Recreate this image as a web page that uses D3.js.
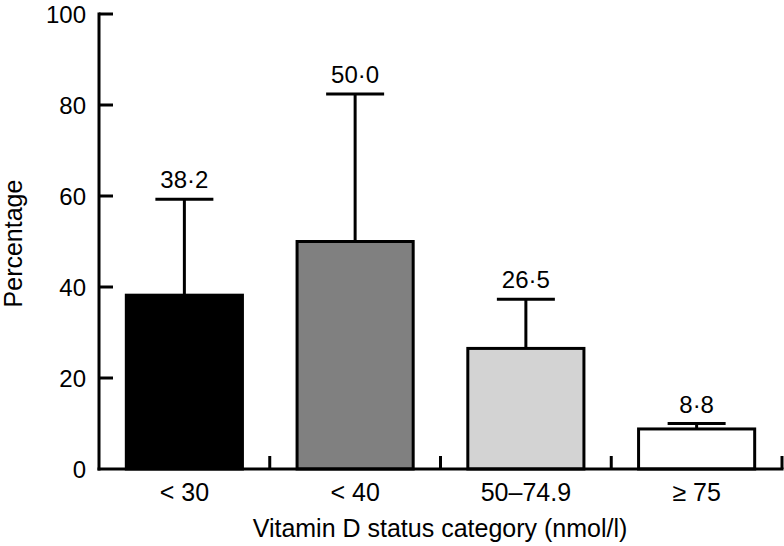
<!DOCTYPE html>
<html>
<head>
<meta charset="utf-8">
<script src="https://cdn.jsdelivr.net/npm/d3@7"></script>
<style>
  html, body { margin: 0; padding: 0; background: #fff; }
  text { font-family: "Liberation Sans", Arial, Helvetica, sans-serif; fill: #000; }
</style>
</head>
<body>
<svg id="chart" width="784" height="546"></svg>
<script>
const categories = ["< 30", "< 40", "50–74.9", "≥ 75"];
const values = [38.2, 50.0, 26.5, 8.8];
const upperValues = [59.3, 82.4, 37.3, 10.0];
const valueLabels = ["38·2", "50·0", "26·5", "8·8"];
const fills = ["#000000", "#808080", "#d3d3d3", "#ffffff"];
const yTicks = [0, 20, 40, 60, 80, 100];
const xTitle = "Vitamin D status category (nmol/l)";
const yTitle = "Percentage";

const svg = d3.select("#chart");
const mLeft = 99, mRight = 782, mTop = 14, mBottom = 469;
const fs = 24;
const fsTitle = 25;

const x = d3.scaleBand().domain(categories).range([mLeft, mRight]).paddingInner(0).paddingOuter(0);
const y = d3.scaleLinear().domain([0, 100]).range([mBottom, mTop]);
const barW = x.bandwidth() * 0.68;
const capW = 58;
const sw = 3;

// bars
const g = svg.append("g");
categories.forEach((c, i) => {
  const cx = x(c) + x.bandwidth() / 2;
  g.append("line")
    .attr("x1", cx).attr("x2", cx)
    .attr("y1", y(values[i])).attr("y2", y(upperValues[i]))
    .attr("stroke", "#000").attr("stroke-width", sw);
  g.append("line")
    .attr("x1", cx - capW / 2).attr("x2", cx + capW / 2)
    .attr("y1", y(upperValues[i])).attr("y2", y(upperValues[i]))
    .attr("stroke", "#000").attr("stroke-width", sw);
  g.append("rect")
    .attr("x", cx - barW / 2).attr("width", barW)
    .attr("y", y(values[i])).attr("height", y(0) - y(values[i]))
    .attr("fill", fills[i]).attr("stroke", "#000").attr("stroke-width", sw);
  g.append("text")
    .attr("x", cx).attr("y", y(upperValues[i]) - 11)
    .attr("text-anchor", "middle").attr("font-size", fs)
    .text(valueLabels[i]);
});

// y axis
const yAxis = svg.append("g");
yAxis.append("line")
  .attr("x1", mLeft).attr("x2", mLeft).attr("y1", mTop - 1.5).attr("y2", mBottom + 1.5)
  .attr("stroke", "#000").attr("stroke-width", sw);
yTicks.forEach(t => {
  if (t > 0) {
    yAxis.append("line")
      .attr("x1", mLeft).attr("x2", mLeft + 14)
      .attr("y1", y(t)).attr("y2", y(t))
      .attr("stroke", "#000").attr("stroke-width", sw);
  }
  yAxis.append("text")
    .attr("x", mLeft - 13).attr("y", y(t))
    .attr("dy", "0.36em")
    .attr("text-anchor", "end").attr("font-size", fs)
    .text(t);
});

// x axis
const xAxis = svg.append("g");
xAxis.append("line")
  .attr("x1", mLeft - 1.5).attr("x2", mRight + 1.5).attr("y1", mBottom).attr("y2", mBottom)
  .attr("stroke", "#000").attr("stroke-width", sw);
categories.forEach((c, i) => {
  const bx = x(c) + x.bandwidth();
  xAxis.append("line")
    .attr("x1", bx).attr("x2", bx)
    .attr("y1", mBottom).attr("y2", mBottom - 13)
    .attr("stroke", "#000").attr("stroke-width", sw);
  xAxis.append("text")
    .attr("x", x(c) + x.bandwidth() / 2).attr("y", 501)
    .attr("text-anchor", "middle").attr("font-size", fsTitle)
    .text(c);
});

svg.append("text")
  .attr("x", 440).attr("y", 537)
  .attr("text-anchor", "middle").attr("font-size", fsTitle)
  .text(xTitle);

svg.append("text")
  .attr("transform", `translate(22, ${(mTop + mBottom) / 2 + 2}) rotate(-90)`)
  .attr("text-anchor", "middle").attr("font-size", fsTitle)
  .text(yTitle);
</script>
</body>
</html>
